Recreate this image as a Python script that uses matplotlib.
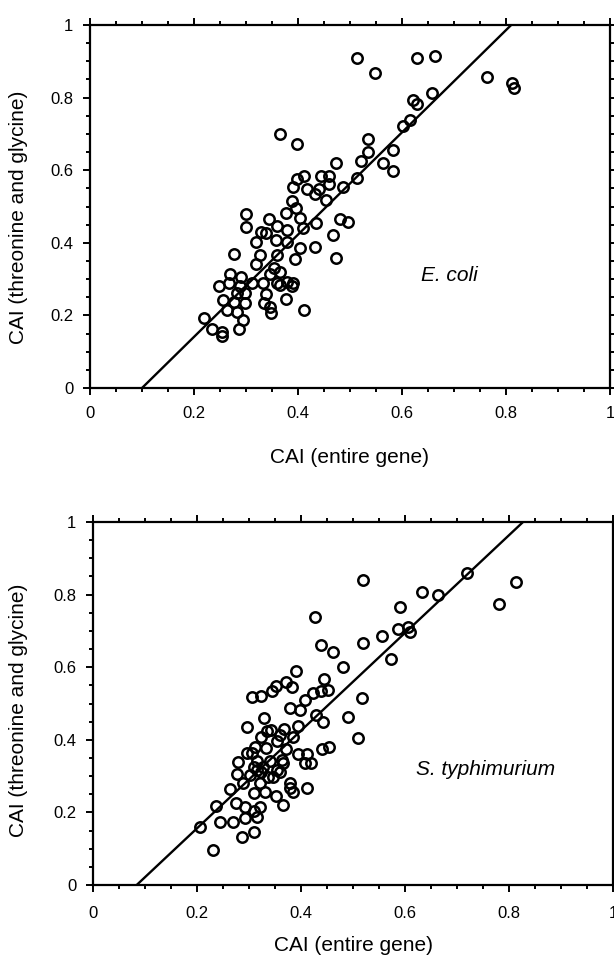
import matplotlib
matplotlib.use("Agg")
import matplotlib.pyplot as plt
from matplotlib.ticker import MultipleLocator, FixedLocator

plt.rcParams.update({
    "font.family": "Liberation Sans",
    "font.size": 12,
    "axes.linewidth": 1.6,
    "xtick.direction": "out",
    "ytick.direction": "out",
})

# E. coli panel
ecoli_x = [0.365, 0.399, 0.535, 0.535, 0.521, 0.582, 0.563, 0.582, 0.474, 0.513,
           0.601, 0.615, 0.398, 0.412, 0.391, 0.418, 0.433, 0.444, 0.460, 0.460,
           0.486, 0.454, 0.440, 0.388, 0.397, 0.377, 0.403, 0.300, 0.300, 0.344,
           0.360, 0.328, 0.338, 0.319, 0.379, 0.410, 0.435, 0.481, 0.497, 0.467,
           0.433, 0.404, 0.358, 0.379, 0.276, 0.326, 0.360, 0.394, 0.473, 0.319,
           0.353, 0.346, 0.365, 0.269, 0.290, 0.249, 0.268, 0.289, 0.311, 0.332,
           0.359, 0.378, 0.391, 0.388, 0.365, 0.282, 0.298, 0.256, 0.276, 0.298,
           0.338, 0.335, 0.346, 0.349, 0.377, 0.412, 0.263, 0.282, 0.295, 0.287,
           0.219, 0.234, 0.254, 0.254, 0.514, 0.548, 0.629, 0.663, 0.764, 0.812,
           0.815, 0.657, 0.622, 0.629]
ecoli_y = [0.700, 0.672, 0.685, 0.651, 0.626, 0.656, 0.619, 0.599, 0.621, 0.578,
           0.722, 0.738, 0.575, 0.584, 0.555, 0.547, 0.534, 0.584, 0.584, 0.562,
           0.555, 0.518, 0.547, 0.516, 0.495, 0.481, 0.467, 0.479, 0.443, 0.466,
           0.446, 0.431, 0.428, 0.403, 0.435, 0.440, 0.455, 0.465, 0.458, 0.421,
           0.389, 0.385, 0.408, 0.403, 0.369, 0.366, 0.366, 0.355, 0.357, 0.342,
           0.330, 0.314, 0.319, 0.314, 0.307, 0.281, 0.288, 0.280, 0.290, 0.288,
           0.288, 0.293, 0.288, 0.280, 0.285, 0.261, 0.262, 0.242, 0.238, 0.233,
           0.259, 0.235, 0.222, 0.206, 0.244, 0.215, 0.215, 0.210, 0.187, 0.162,
           0.192, 0.162, 0.143, 0.155, 0.908, 0.869, 0.908, 0.915, 0.858, 0.840,
           0.827, 0.812, 0.793, 0.782]
ecoli_fit_x = [0.10, 0.81]
ecoli_fit_y = [0.0, 1.0]

# S. typhimurium panel
styph_x = [0.427, 0.438, 0.461, 0.519, 0.555, 0.587, 0.606, 0.609, 0.573, 0.481,
           0.390, 0.372, 0.382, 0.352, 0.344, 0.305, 0.324, 0.444, 0.451, 0.438,
           0.423, 0.408, 0.517, 0.379, 0.398, 0.429, 0.443, 0.490, 0.510, 0.328,
           0.296, 0.395, 0.342, 0.367, 0.385, 0.324, 0.353, 0.312, 0.333, 0.371,
           0.395, 0.411, 0.419, 0.408, 0.440, 0.454, 0.279, 0.296, 0.315, 0.340,
           0.366, 0.276, 0.302, 0.324, 0.347, 0.360, 0.289, 0.321, 0.379, 0.263,
           0.310, 0.331, 0.352, 0.385, 0.412, 0.379, 0.237, 0.275, 0.292, 0.310,
           0.321, 0.366, 0.315, 0.292, 0.244, 0.270, 0.206, 0.310, 0.286, 0.230,
           0.305, 0.327, 0.337, 0.315, 0.353, 0.363, 0.334, 0.359, 0.310, 0.519,
           0.632, 0.664, 0.719, 0.813, 0.780, 0.590]
styph_y = [0.739, 0.661, 0.643, 0.666, 0.686, 0.704, 0.710, 0.698, 0.622, 0.601,
           0.590, 0.560, 0.546, 0.548, 0.535, 0.517, 0.521, 0.567, 0.537, 0.535,
           0.528, 0.511, 0.514, 0.487, 0.482, 0.468, 0.450, 0.462, 0.404, 0.459,
           0.436, 0.438, 0.427, 0.431, 0.409, 0.408, 0.398, 0.381, 0.377, 0.374,
           0.361, 0.360, 0.335, 0.336, 0.374, 0.379, 0.340, 0.363, 0.342, 0.342,
           0.335, 0.306, 0.303, 0.310, 0.298, 0.310, 0.280, 0.280, 0.280, 0.264,
           0.253, 0.255, 0.246, 0.255, 0.266, 0.266, 0.218, 0.225, 0.216, 0.205,
           0.216, 0.220, 0.188, 0.185, 0.174, 0.174, 0.159, 0.147, 0.133, 0.096,
           0.363, 0.325, 0.298, 0.317, 0.317, 0.343, 0.423, 0.414, 0.325, 0.840,
           0.808, 0.799, 0.859, 0.836, 0.774, 0.767]
styph_fit_x = [0.084, 0.827]
styph_fit_y = [0.0, 1.0]

tick_vals = [0, 0.2, 0.4, 0.6, 0.8, 1]
tick_labels = ["0", "0.2", "0.4", "0.6", "0.8", "1"]


def style_ax(ax, xpad):
    ax.set_xlim(0, 1)
    ax.set_ylim(0, 1)
    ax.xaxis.set_major_locator(FixedLocator(tick_vals))
    ax.yaxis.set_major_locator(FixedLocator(tick_vals))
    ax.set_xticklabels(tick_labels)
    ax.set_yticklabels(tick_labels)
    ax.xaxis.set_minor_locator(MultipleLocator(0.05))
    ax.yaxis.set_minor_locator(MultipleLocator(0.05))
    ax.tick_params(which="both", top=True, right=True, width=1.4)
    ax.tick_params(which="major", length=5)
    ax.tick_params(which="minor", length=3)
    ax.tick_params(axis="x", which="major", pad=xpad, labelsize=12)
    ax.tick_params(axis="y", which="major", pad=7, labelsize=12)
    ax.set_xlabel("CAI (entire gene)", fontsize=15)
    ax.set_ylabel("CAI (threonine and glycine)", fontsize=15)


fig = plt.figure(figsize=(6.14, 9.56), dpi=100)
ax1 = fig.add_axes([90 / 614, 1 - 388 / 956, 520 / 614, 363 / 956])
ax2 = fig.add_axes([93 / 614, 1 - 885 / 956, 520 / 614, 363 / 956])

for ax, xs, ys, fx, fy, name, lx, ly, xpad in [
    (ax1, ecoli_x, ecoli_y, ecoli_fit_x, ecoli_fit_y, "E. coli", 0.692, 0.311, 8),
    (ax2, styph_x, styph_y, styph_fit_x, styph_fit_y, "S. typhimurium", 0.754, 0.317, 10),
]:
    ax.plot(fx, fy, color="black", linewidth=1.7, zorder=2)
    ax.plot(xs, ys, linestyle="None", marker="o", markersize=7.5,
            markerfacecolor="none", markeredgecolor="black", markeredgewidth=1.8,
            zorder=3, clip_on=False)
    ax.text(lx, ly, name, fontsize=15, style="italic", ha="center", va="center")
    style_ax(ax, xpad)

ax1.xaxis.set_label_coords(0.5, -0.165)
ax2.xaxis.set_label_coords(0.5, -0.14)
ax1.yaxis.set_label_coords(-0.12, 0.47)
ax2.yaxis.set_label_coords(-0.125, 0.48)

fig.savefig("out.png", dpi=100)
